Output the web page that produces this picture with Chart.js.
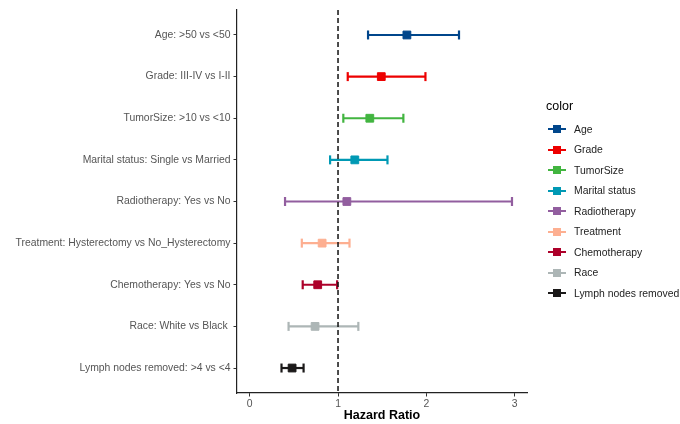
<!DOCTYPE html>
<html>
<head>
<meta charset="utf-8">
<script src="https://cdn.jsdelivr.net/npm/chart.js@4.4.1/dist/chart.umd.min.js"></script>
<style>
  html, body { margin: 0; padding: 0; background: #fff; }
  #wrap { position: relative; width: 680px; height: 424px; font-family: "Liberation Sans", Arial, sans-serif; }
  #legend { position: absolute; left: 546px; top: 98.5px; }
  #legend .ttl { font-size: 12.5px; line-height: 15px; color: #000; margin-bottom: 5.5px; }
  #legend .item { height: 20.5px; display: flex; align-items: center; font-size: 10.4px; color: #222; }
  #legend .key { position: relative; width: 18px; height: 2.2px; margin-left: 1.5px; margin-right: 8.5px; }
  #legend .key span { position: absolute; left: 5px; top: -3px; width: 8px; height: 8px; }
</style>
</head>
<body>
<div id="wrap">
  <canvas id="forest" width="680" height="424"></canvas>
  <div id="legend"></div>
</div>
<script>
// forest plot - hazard ratios

const categories = [
  'Age: >50 vs <50',
  'Grade: III-IV vs I-II',
  'TumorSize: >10 vs <10',
  'Marital status: Single vs Married',
  'Radiotherapy: Yes vs No',
  'Treatment: Hysterectomy vs No_Hysterectomy',
  'Chemotherapy: Yes vs No',
  'Race: White vs Black ',
  'Lymph nodes removed: >4 vs <4'
];
const groups = ['Age', 'Grade', 'TumorSize', 'Marital status', 'Radiotherapy',
                'Treatment', 'Chemotherapy', 'Race', 'Lymph nodes removed'];
const hazard = [1.78, 1.49, 1.36, 1.19, 1.10, 0.82, 0.77, 0.74, 0.48];
const lower  = [1.34, 1.11, 1.06, 0.91, 0.40, 0.59, 0.60, 0.44, 0.36];
const upper  = [2.37, 1.99, 1.74, 1.56, 2.97, 1.13, 0.99, 1.23, 0.61];
const colors = ['#00468B', '#ED0000', '#42B540', '#0099B4', '#925E9F',
                '#FDAF91', '#AD002A', '#ADB6B6', '#1B1919'];
const xTicks = [0, 1, 2, 3];
const refLine = 1;

// legend (html)
const legendEl = document.getElementById('legend');
let html = '<div class="ttl">color</div>';
groups.forEach((g, i) => {
  html += `<div class="item"><div class="key" style="background:${colors[i]}"><span style="background:${colors[i]}"></span></div>${g}</div>`;
});
legendEl.innerHTML = html;

// datasets: dashed ref line, then error bars + points
const datasets = [{
  type: 'line',
  data: [{ x: refLine, y: 0.4 }, { x: refLine, y: 9.6 }],
  borderColor: '#111',
  borderWidth: 1.5,
  borderDash: [5, 3],
  pointRadius: 0
}];

categories.forEach((c, i) => {
  datasets.push({
    type: 'scatter',
    data: [{ x: hazard[i], y: i + 1 }],
    pointStyle: 'rect',
    pointRadius: 5.5,
    pointBackgroundColor: colors[i],
    pointBorderColor: colors[i],
    pointBorderWidth: 1
  });
  datasets.push({
    type: 'line',
    data: [{ x: lower[i], y: i + 1 }, { x: upper[i], y: i + 1 }],
    borderColor: colors[i],
    borderWidth: 2.2,
    pointStyle: 'line',
    rotation: 90,
    pointRadius: 4.5,
    pointBorderColor: colors[i],
    pointBorderWidth: 2.2
  });
});

const ctx = document.getElementById('forest').getContext('2d');
new Chart(ctx, {
  type: 'scatter',
  data: { datasets: datasets },
  options: {
    responsive: false,
    animation: false,
    events: [],
    layout: { padding: { top: 10, right: 153, left: 0, bottom: 0 } },
    plugins: {
      legend: { display: false },
      tooltip: { enabled: false }
    },
    scales: {
      x: {
        type: 'linear',
        min: -0.144,
        max: 3.14,
        afterBuildTicks: (s) => { s.ticks = xTicks.map(v => ({ value: v })); },
        afterFit: (s) => { s.height = 31; },
        grid: { drawOnChartArea: false, drawTicks: true, tickLength: 3.5, color: '#333', lineWidth: 1 },
        border: { display: true, color: '#222', width: 1.2 },
        ticks: {
          padding: 1.5,
          color: '#555',
          font: { family: '"Liberation Sans", Arial, sans-serif', size: 10.4 }
        },
        title: {
          display: true,
          text: 'Hazard Ratio',
          color: '#000',
          padding: { top: 0, bottom: 1 },
          font: { family: '"Liberation Sans", Arial, sans-serif', size: 12.5, weight: 'bold' }
        }
      },
      y: {
        type: 'linear',
        reverse: true,
        min: 0.4,
        max: 9.6,
        afterBuildTicks: (s) => { s.ticks = categories.map((c, i) => ({ value: i + 1 })); },
        afterFit: (s) => { s.width = 237; },
        grid: { drawOnChartArea: false, drawTicks: true, tickLength: 3.5, color: '#333', lineWidth: 1 },
        border: { display: true, color: '#222', width: 1.2 },
        ticks: {
          padding: 3,
          color: '#555',
          font: { family: '"Liberation Sans", Arial, sans-serif', size: 10.4 },
          callback: (v) => categories[Math.round(v) - 1]
        }
      }
    }
  }
});
</script>
</body>
</html>
